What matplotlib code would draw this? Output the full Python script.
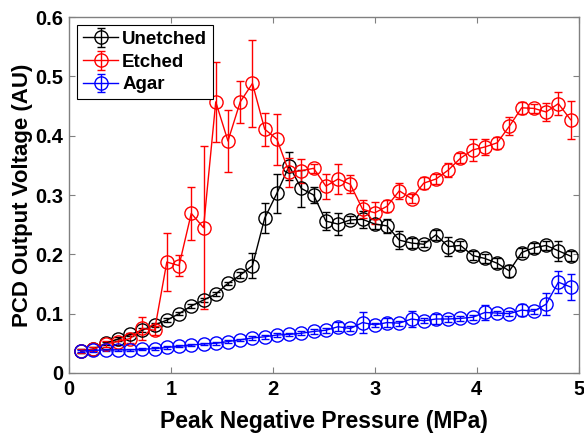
import numpy as np
import matplotlib
matplotlib.use("Agg")
import matplotlib.pyplot as plt

plt.rcParams['font.family'] = ['Liberation Sans', 'DejaVu Sans']
plt.rcParams['font.weight'] = 'bold'

# Peak negative pressure (MPa)
pressure = [round(0.12 * (i + 1), 2) for i in range(41)]

unetched = [0.037, 0.040, 0.050, 0.057, 0.065, 0.072, 0.081, 0.089, 0.100, 0.113,
            0.123, 0.133, 0.151, 0.165, 0.181, 0.261, 0.303, 0.349, 0.311, 0.300,
            0.256, 0.251, 0.258, 0.259, 0.251, 0.248, 0.224, 0.219, 0.217, 0.233,
            0.213, 0.215, 0.198, 0.193, 0.185, 0.172, 0.203, 0.211, 0.215, 0.206,
            0.197]
unetched_err = [0.003, 0.003, 0.003, 0.003, 0.003, 0.003, 0.003, 0.003, 0.003, 0.003,
                0.003, 0.003, 0.003, 0.005, 0.021, 0.025, 0.033, 0.024, 0.031, 0.014,
                0.015, 0.019, 0.006, 0.014, 0.008, 0.012, 0.015, 0.008, 0.005, 0.008,
                0.016, 0.008, 0.008, 0.008, 0.008, 0.010, 0.008, 0.008, 0.008, 0.017,
                0.008]

etched = [0.037, 0.040, 0.049, 0.053, 0.058, 0.075, 0.072, 0.187, 0.181, 0.269,
          0.245, 0.457, 0.391, 0.457, 0.488, 0.411, 0.394, 0.338, 0.341, 0.345,
          0.315, 0.327, 0.318, 0.276, 0.270, 0.281, 0.307, 0.294, 0.320, 0.327,
          0.342, 0.362, 0.376, 0.381, 0.388, 0.416, 0.447, 0.446, 0.440, 0.454,
          0.427]
etched_err = [0.003, 0.003, 0.005, 0.005, 0.008, 0.020, 0.008, 0.049, 0.018, 0.045,
              0.137, 0.067, 0.052, 0.035, 0.074, 0.028, 0.043, 0.025, 0.020, 0.008,
              0.021, 0.025, 0.015, 0.015, 0.019, 0.010, 0.014, 0.008, 0.010, 0.008,
              0.012, 0.008, 0.018, 0.014, 0.010, 0.015, 0.010, 0.008, 0.015, 0.019,
              0.032]

agar = [0.037, 0.038, 0.039, 0.039, 0.039, 0.040, 0.041, 0.043, 0.045, 0.047,
        0.049, 0.050, 0.053, 0.056, 0.059, 0.061, 0.064, 0.065, 0.067, 0.070,
        0.072, 0.078, 0.075, 0.085, 0.081, 0.085, 0.084, 0.091, 0.088, 0.091,
        0.091, 0.092, 0.094, 0.102, 0.101, 0.100, 0.106, 0.104, 0.116, 0.153,
        0.145]
agar_err = [0.002, 0.002, 0.002, 0.002, 0.002, 0.002, 0.002, 0.002, 0.002, 0.002,
            0.002, 0.002, 0.002, 0.002, 0.003, 0.003, 0.003, 0.003, 0.003, 0.004,
            0.004, 0.008, 0.004, 0.018, 0.004, 0.008, 0.004, 0.014, 0.004, 0.008,
            0.005, 0.004, 0.004, 0.013, 0.004, 0.004, 0.010, 0.004, 0.018, 0.019,
            0.022]

series = [("Unetched", unetched, unetched_err, "black"),
          ("Etched", etched, etched_err, "#ff0000"),
          ("Agar", agar, agar_err, "#0000ff")]

fig = plt.figure(figsize=(5.84, 4.37), dpi=100)
ax = fig.add_axes([0.118, 0.1465, 0.873, 0.8145])

for label, y, e, c in series:
    ax.errorbar(pressure, y, yerr=e, color=c, ecolor=c, marker='o', markersize=9.5,
                markerfacecolor='none', markeredgecolor=c, markeredgewidth=1.0,
                linewidth=1.0, elinewidth=1.0, capsize=3, capthick=1.0, label=label)

ax.set_xlim(0, 5)
ax.set_ylim(0, 0.6)
ax.set_xticks([0, 1, 2, 3, 4, 5])
ax.set_yticks([0, 0.1, 0.2, 0.3, 0.4, 0.5, 0.6])
ax.set_yticklabels(["0", "0.1", "0.2", "0.3", "0.4", "0.5", "0.6"])
ax.tick_params(direction='in', top=True, right=True, length=4, width=0.8,
               color='#808080', labelsize=14.5)
ax.tick_params(axis='x', pad=5)
ax.tick_params(axis='y', pad=4)
for lbl in ax.get_xticklabels() + ax.get_yticklabels():
    lbl.set_fontweight('bold')
for s in ax.spines.values():
    s.set_color('#808080')
    s.set_linewidth(1.0)

ax.set_xlabel("Peak Negative Pressure (MPa)", fontsize=16.5, fontweight='bold', labelpad=8)
ax.set_ylabel("PCD Output Voltage (AU)", fontsize=16, fontweight='bold', labelpad=2)

leg = ax.legend(loc='upper left', bbox_to_anchor=(0.016, 0.977), fontsize=13.5,
                frameon=True, fancybox=False, edgecolor='black', framealpha=1,
                handlelength=1.9, handletextpad=0.2, borderpad=0.3, labelspacing=0.3,
                borderaxespad=0)
leg.get_frame().set_linewidth(0.8)
for t in leg.get_texts():
    t.set_fontweight('bold')

fig.savefig("out.png", dpi=100)
